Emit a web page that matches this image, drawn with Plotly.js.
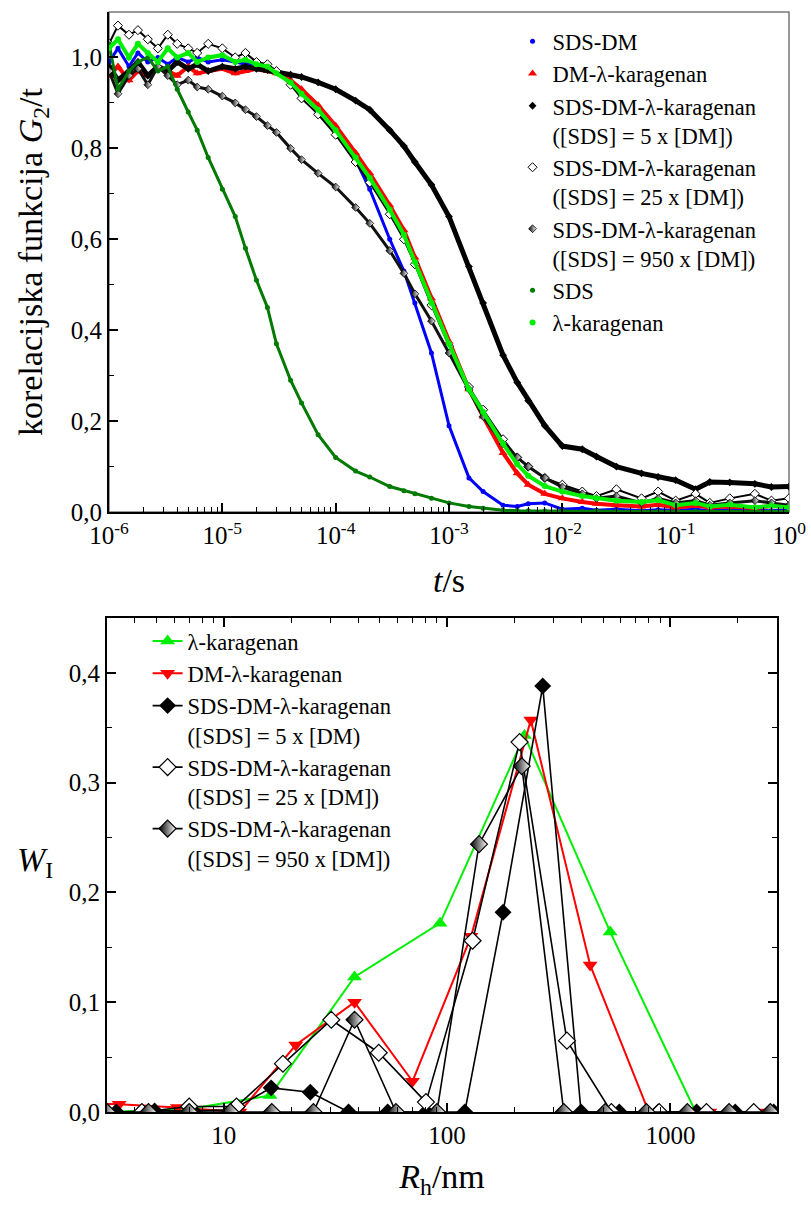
<!DOCTYPE html>
<html>
<head>
<meta charset="utf-8">
<script src="https://cdn.plot.ly/plotly-3.0.1.min.js"></script>
<style>html,body{margin:0;padding:0;background:#fff;}#chart{width:811px;height:1205px;}</style>
</head>
<body>
<div id="chart"></div>
<script>
// ---------- Top panel: correlation functions ----------
const t = [1e-6, 1.2e-6, 1.5e-6, 1.8e-6, 2.2e-6, 2.7e-6, 3.3e-6, 4e-6, 5e-6, 6e-6,
           7.5e-6, 1e-5, 1.3e-5, 1.6e-5, 2e-5, 2.5e-5, 3e-5, 4e-5, 5e-5, 7e-5,
           1e-4, 1.5e-4, 2e-4, 3e-4, 4e-4, 5e-4, 7e-4, 1e-3, 1.5e-3, 2e-3,
           3e-3, 4e-3, 5e-3, 7e-3, 1e-2, 1.5e-2, 2e-2, 3e-2, 5e-2, 7e-2,
           0.1, 0.15, 0.2, 0.3, 0.5, 0.7, 1];

const g2SdsDm = [0.99,1.02,0.98,1.01,0.99,1.00,0.985,1.00,0.99,1.00,
                 0.99,0.995,0.99,0.985,0.985,0.98,0.97,0.95,0.925,0.885,
                 0.84,0.775,0.71,0.60,0.53,0.46,0.35,0.19,0.075,0.045,
                 0.015,0.012,0.018,0.02,0.006,0.008,0.004,0.006,0.003,0.005,
                 0.004,0.006,0.003,0.005,0.004,0.003,0.005];
const g2DmLk = [0.96,0.98,0.95,0.97,0.96,0.98,0.97,0.96,0.98,0.965,
                0.97,0.975,0.965,0.97,0.975,0.97,0.965,0.95,0.93,0.895,
                0.85,0.79,0.745,0.675,0.62,0.56,0.47,0.375,0.27,0.21,
                0.13,0.085,0.06,0.04,0.03,0.022,0.018,0.015,0.012,0.016,
                0.01,0.014,0.01,0.012,0.009,0.013,0.012];
const g2Sds5 = [0.98,0.95,0.97,0.99,0.96,0.98,0.97,0.99,0.975,0.985,
                0.97,0.98,0.975,0.98,0.975,0.972,0.968,0.962,0.957,0.945,
                0.93,0.905,0.885,0.84,0.805,0.77,0.72,0.65,0.54,0.46,
                0.345,0.285,0.245,0.19,0.145,0.138,0.122,0.10,0.085,0.077,
                0.07,0.05,0.066,0.065,0.062,0.055,0.056];
const g2Sds25 = [1.03,1.07,1.05,1.06,1.04,1.02,1.05,1.03,1.02,1.01,
                 1.03,1.02,1.00,1.01,0.99,0.985,0.97,0.94,0.91,0.875,
                 0.83,0.77,0.725,0.655,0.60,0.545,0.455,0.365,0.275,0.225,
                 0.16,0.12,0.10,0.075,0.06,0.045,0.035,0.05,0.03,0.045,
                 0.025,0.04,0.02,0.03,0.04,0.025,0.03];
const g2Sds950 = [0.97,0.92,0.96,0.975,0.94,0.98,0.96,0.94,0.95,0.935,
                  0.93,0.915,0.90,0.885,0.87,0.85,0.835,0.80,0.775,0.745,
                  0.715,0.67,0.635,0.575,0.525,0.48,0.42,0.35,0.27,0.21,
                  0.15,0.12,0.10,0.075,0.055,0.04,0.03,0.035,0.02,0.03,
                  0.02,0.025,0.015,0.02,0.025,0.02,0.015];
const g2Sds = [1.03,0.93,0.97,0.99,1.00,0.97,0.98,0.93,0.88,0.84,
               0.78,0.71,0.65,0.58,0.51,0.45,0.37,0.29,0.24,0.17,
               0.12,0.09,0.077,0.056,0.047,0.04,0.03,0.02,0.012,0.008,
               0.004,0.003,0.003,0.002,0.002,0.001,0.002,0.001,0.001,0.001,
               0.001,0.001,0.001,0.001,0.001,0.001,0.001];
const g2Lk = [1.02,1.04,1.00,1.03,1.01,0.99,1.02,1.00,1.01,0.99,
              1.00,1.005,0.99,0.995,0.985,0.98,0.965,0.945,0.92,0.885,
              0.84,0.78,0.735,0.665,0.61,0.55,0.46,0.37,0.27,0.22,
              0.15,0.105,0.08,0.057,0.045,0.035,0.03,0.025,0.022,0.026,
              0.015,0.02,0.012,0.016,0.01,0.014,0.01];

const topNames = ['SDS-DM', 'DM-λ-karagenan',
  'SDS-DM-λ-karagenan<br>([SDS] = 5 x [DM])',
  'SDS-DM-λ-karagenan<br>([SDS] = 25 x [DM])',
  'SDS-DM-λ-karagenan<br>([SDS] = 950 x [DM])',
  'SDS', 'λ-karagenan'];
const topTickVals = [1e-6, 1e-5, 1e-4, 1e-3, 1e-2, 1e-1, 1];
const topTickText = ['10<sup>-6</sup>', '10<sup>-5</sup>', '10<sup>-4</sup>', '10<sup>-3</sup>', '10<sup>-2</sup>', '10<sup>-1</sup>', '10<sup>0</sup>'];

// ---------- Bottom panel: size distributions ----------
const rhLk = [2.77, 6.67, 16.1, 38.5, 93, 222, 537, 1297, 3130];
const wLk = [0, 0.002, 0.015, 0.123, 0.172, 0.343, 0.164, 0, 0];
const rhDmLk = [1.86, 3.4, 6.2, 11.8, 21, 38.5, 70, 128, 237, 437, 800, 1500, 2650];
const wDmLk = [0.008, 0.007, 0.004, 0, 0.061, 0.1, 0.028, 0.16, 0.357, 0.134, 0, 0, 0];
const rh5 = [3.3, 4.9, 7.3, 10.9, 16.3, 24.4, 36.2, 54.2, 80.6, 120, 178, 268, 398, 590, 880, 1310, 1950, 2900];
const w5 = [0, 0.001, 0.001, 0.002, 0.022, 0.018, 0, 0, 0, 0, 0.182, 0.388, 0, 0, 0, 0, 0, 0];
const rh25 = [4.3, 7.0, 11.4, 18.4, 30.3, 49.4, 80.4, 130, 211, 344, 544, 890, 1450, 2360];
const w25 = [0, 0.005, 0.005, 0.044, 0.084, 0.054, 0.009, 0.156, 0.337, 0.065, 0, 0, 0, 0];
const rh950 = [3.0, 4.6, 7.0, 10.7, 16.4, 25.2, 38.5, 59, 90, 139, 216, 333, 510, 780, 1190, 1830, 2800];
const w950 = [0, 0, 0, 0, 0, 0, 0.084, 0, 0, 0.244, 0.315, 0, 0, 0, 0, 0, 0];

const botNames = ['λ-karagenan', 'DM-λ-karagenan',
  'SDS-DM-λ-karagenan<br>([SDS] = 5 x [DM)',
  'SDS-DM-λ-karagenan<br>([SDS] = 25 x [DM])',
  'SDS-DM-λ-karagenan<br>([SDS] = 950 x [DM])'];
const botTickVals = [10, 100, 1000];
const botTickText = ['10', '100', '1000'];

// ---------- styles ----------
const FONT = 'Liberation Serif';
const topStyles = [
  {y: g2SdsDm, color: '#0000ff', lw: 3, m: {symbol: 'circle', size: 5, color: '#0000ff'}},
  {y: g2DmLk, color: '#ff0000', lw: 4, m: {symbol: 'triangle-up', size: 8, color: '#ff0000'}},
  {y: g2Sds5, color: '#000000', lw: 5, m: {symbol: 'diamond', size: 6, color: '#000000'}},
  {y: g2Sds25, color: '#000000', lw: 2, m: {symbol: 'diamond', size: 7, color: '#ffffff', line: {color: '#000000', width: 1}}},
  {y: g2Sds950, color: '#111111', lw: 3, m: {symbol: 'diamond', size: 6, color: '#000000', gradient: {type: 'horizontal', color: '#ffffff'}, line: {color: '#000000', width: 0.8}}},
  {y: g2Sds, color: '#007a00', lw: 3, m: {symbol: 'circle', size: 5, color: '#007a00'}},
  {y: g2Lk, color: '#00ee00', lw: 4, m: {symbol: 'circle', size: 6, color: '#00ee00'}}
];

const traces = [];
topStyles.forEach((s, i) => {
  traces.push({x: t, y: s.y, type: 'scatter', mode: 'lines', xaxis: 'x', yaxis: 'y',
    line: {color: s.color, width: s.lw, shape: 'linear'}, showlegend: false, hoverinfo: 'skip'});
  traces.push({x: t, y: s.y, type: 'scatter', mode: 'markers', xaxis: 'x', yaxis: 'y',
    name: topNames[i], marker: s.m, legend: 'legend'});
});

const botStyles = [
  {x: rhLk, y: wLk, color: '#00ee00', lw: 2, m: {symbol: 'triangle-up', size: 13, color: '#00ee00'}},
  {x: rhDmLk, y: wDmLk, color: '#ff0000', lw: 2, m: {symbol: 'triangle-down', size: 13, color: '#ff0000'}},
  {x: rh5, y: w5, color: '#000000', lw: 1.6, m: {symbol: 'diamond', size: 13, color: '#000000'}},
  {x: rh25, y: w25, color: '#000000', lw: 1.6, m: {symbol: 'diamond', size: 13, color: '#ffffff', line: {color: '#000000', width: 1.2}}},
  {x: rh950, y: w950, color: '#000000', lw: 1.6, m: {symbol: 'diamond', size: 13, color: '#000000', gradient: {type: 'horizontal', color: '#ffffff'}, line: {color: '#000000', width: 1.2}}}
];
botStyles.forEach((s, i) => {
  traces.push({x: s.x, y: s.y, type: 'scatter', mode: 'lines+markers', xaxis: 'x2', yaxis: 'y2',
    name: botNames[i], line: {color: s.color, width: s.lw}, marker: s.m, legend: 'legend2'});
});

// minor log ticks
function logMinor(d0, d1) {
  const v = [];
  for (let d = d0; d <= d1; d++) for (let k = 2; k <= 9; k++) v.push(k * Math.pow(10, d));
  return v;
}

const W = 811, H = 1205;
function axBase() {
  return {
    showline: true, linecolor: '#000', linewidth: 2, showgrid: false, zeroline: false,
    ticks: 'inside', ticklen: 9, tickwidth: 1.6, tickcolor: '#000',
    tickfont: {size: 25}
  };
}
function minorBase() {
  return {ticks: 'inside', ticklen: 5, tickwidth: 1.4, tickcolor: '#000', showgrid: false};
}

const layout = {
  width: W, height: H,
  margin: {l: 0, r: 0, t: 0, b: 0},
  paper_bgcolor: '#fff', plot_bgcolor: '#fff',
  separators: ',.',
  font: {family: FONT, size: 24, color: '#000'},
  xaxis: Object.assign(axBase(), {
    type: 'log', domain: [109 / W, 789 / W], range: [-6, 0], anchor: 'y',
    tickmode: 'array', tickvals: topTickVals, ticktext: topTickText,
    minor: Object.assign(minorBase(), {tickvals: logMinor(-6, -1)}),
    title: {text: '<i>t</i>/s', font: {size: 34}, standoff: 20}
  }),
  yaxis: Object.assign(axBase(), {
    domain: [1 - 512 / H, 1 - 12 / H], range: [0, 1.1], anchor: 'x',
    tick0: 0, dtick: 0.2, tickformat: '.1f',
    minor: Object.assign(minorBase(), {dtick: 0.1, tick0: 0}),
    title: {text: 'korelacijska funkcija <i>G</i><sub>2</sub>/t', font: {size: 34}, standoff: 18}
  }),
  xaxis2: Object.assign(axBase(), {
    type: 'log', domain: [107 / W, 777 / W], range: [Math.log10(3), Math.log10(3000)], anchor: 'y2',
    mirror: 'ticks', tickmode: 'array', tickvals: botTickVals, ticktext: botTickText,
    minor: Object.assign(minorBase(), {tickvals: logMinor(0, 3)}),
    title: {text: '<i>R</i><sub>h</sub>/nm', font: {size: 34}, standoff: 16}
  }),
  yaxis2: Object.assign(axBase(), {
    domain: [1 - 1112 / H, 1 - 618 / H], range: [0, 0.45], anchor: 'x2',
    mirror: 'ticks', tick0: 0, dtick: 0.1, tickformat: '.1f',
    minor: Object.assign(minorBase(), {dtick: 0.05, tick0: 0})
  }),
  legend: {
    x: 0.632, y: 0.9833, xanchor: 'left', yanchor: 'top',
    bgcolor: 'rgba(0,0,0,0)', borderwidth: 0, valign: 'top', tracegroupgap: 0,
    font: {size: 22.5}
  },
  legend2: {
    x: 0.182, y: 0.4855, xanchor: 'left', yanchor: 'top',
    bgcolor: 'rgba(0,0,0,0)', borderwidth: 0, valign: 'top', tracegroupgap: 0,
    font: {size: 22.5}
  },
  shapes: [
    {type: 'rect', xref: 'x domain', yref: 'y domain', x0: 0, x1: 1, y0: 0, y1: 1,
     line: {color: '#777', width: 1.5}, layer: 'below'}
  ],
  annotations: [
    {xref: 'paper', yref: 'paper', x: 35 / W, y: 1 - 862 / H, xanchor: 'center', yanchor: 'middle',
     text: '<i>W</i><sub>I</sub>', showarrow: false, font: {size: 34}}
  ]
};

Plotly.newPlot('chart', traces, layout, {displayModeBar: false});
</script>
</body>
</html>
